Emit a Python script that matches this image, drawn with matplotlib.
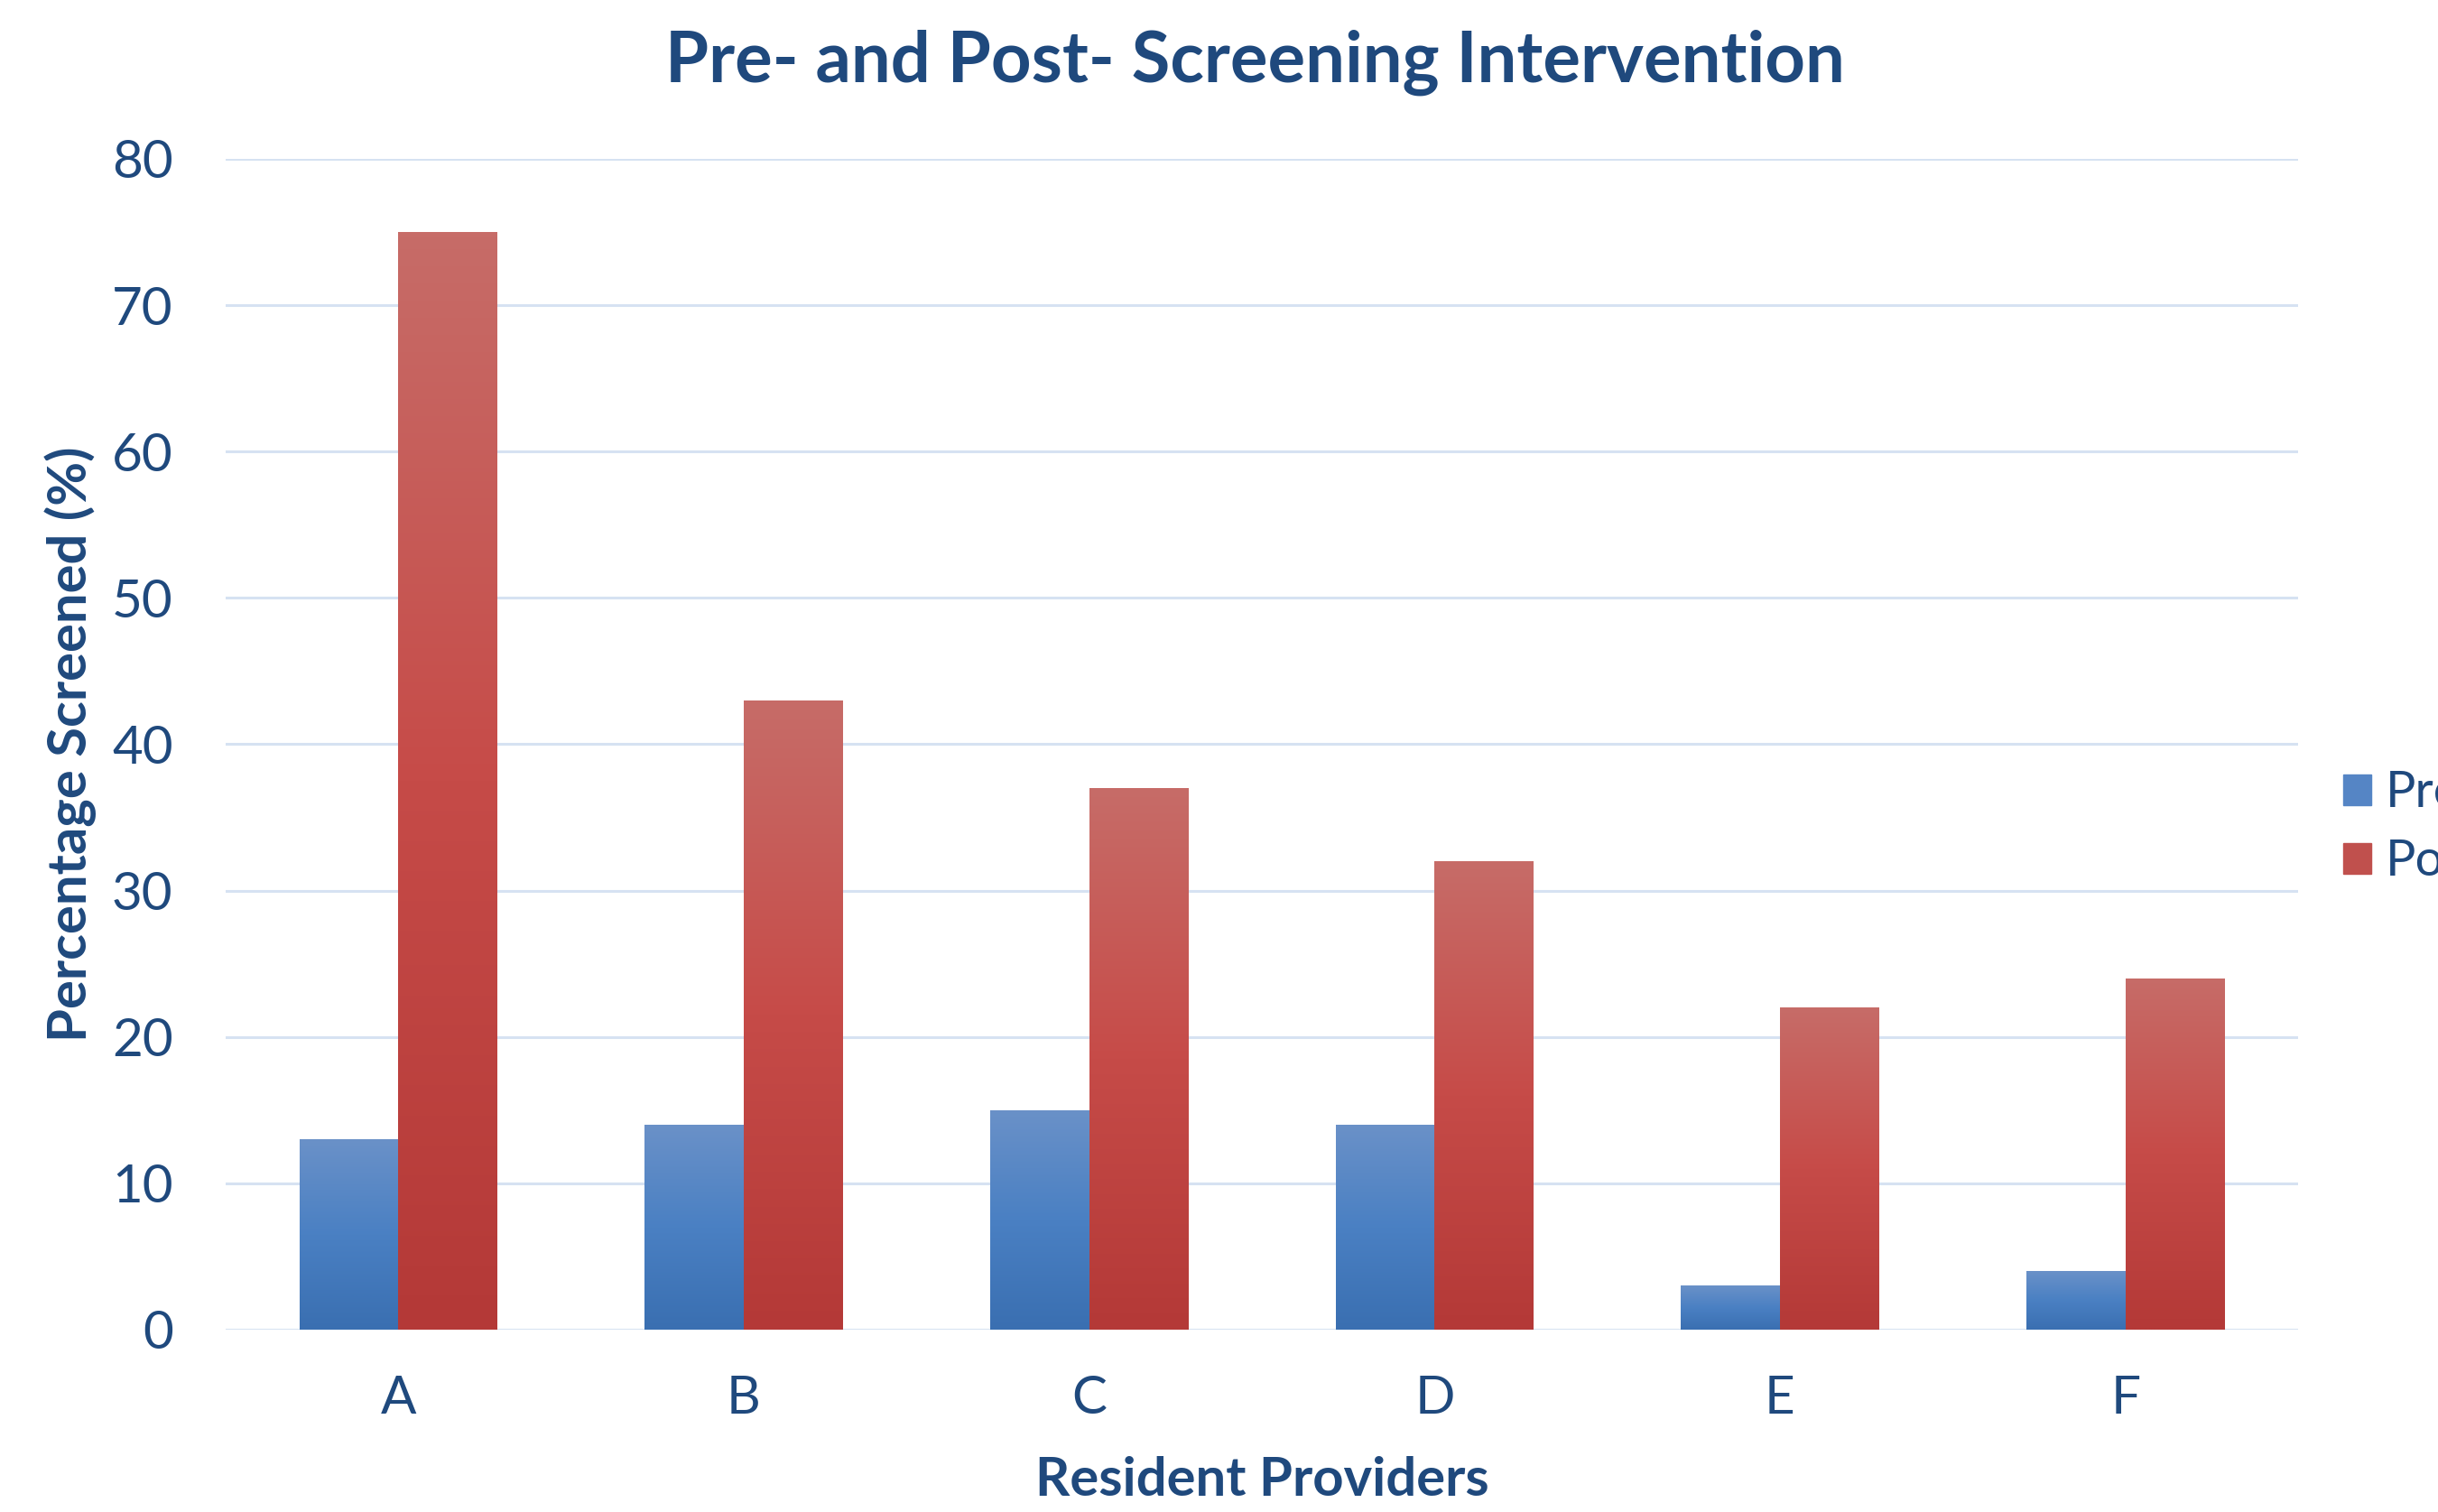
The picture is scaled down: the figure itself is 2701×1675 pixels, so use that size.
import numpy as np
import matplotlib
matplotlib.use("Agg")
from matplotlib import pyplot as plt
from matplotlib.colors import LinearSegmentedColormap

providers = ["A", "B", "C", "D", "E", "F"]
pre = [13, 14, 15, 14, 3, 4]
post = [75, 43, 37, 32, 22, 24]
series_names = ["Pre", "Post"]

text_color = "#1f497d"
plt.rcParams["font.family"] = ["Lato", "DejaVu Sans"]

blue_map = LinearSegmentedColormap.from_list("b", ["#3a6fb1", "#4a80c3", "#6a91c8"])
red_map = LinearSegmentedColormap.from_list("r", ["#b43937", "#c64b48", "#c76c68"])


def gradient_bars(ax, bars, cmap):
    grad = np.linspace(0, 1, 256).reshape(-1, 1)
    for b in bars:
        x0, y0 = b.get_x(), b.get_y()
        w, h = b.get_width(), b.get_height()
        im = ax.imshow(grad, cmap=cmap, origin="lower", aspect="auto",
                       extent=[x0, x0 + w, y0, y0 + h], zorder=3)
        im.set_clip_path(b)


W, H = 2701, 1675
fig = plt.figure(figsize=(W / 100, H / 100), dpi=100)
ax = fig.add_axes([250 / W, 1 - 1473 / H, 2296 / W, (1473 - 176) / H])

x = np.arange(len(providers))
w = 0.287
b1 = ax.bar(x - w / 2, pre, w, color="#4a80c3", label=series_names[0], zorder=2)
b2 = ax.bar(x + w / 2, post, w, color="#c64b48", label=series_names[1], zorder=2)
gradient_bars(ax, b1, blue_map)
gradient_bars(ax, b2, red_map)

ax.set_xlim(-0.5, len(providers) - 0.5)
ax.set_ylim(0, 80)
ax.set_yticks(range(0, 81, 10))
ax.set_xticks(x)
ax.set_xticklabels(providers)
ax.yaxis.grid(True, color="#d6e2f2", linewidth=2.2, zorder=0)
ax.set_axisbelow(True)
for s in ax.spines.values():
    s.set_visible(False)
ax.tick_params(axis="both", length=0, labelsize=42, colors=text_color)
ax.tick_params(axis="y", pad=42)
ax.tick_params(axis="x", pad=36)

fig.text(1390 / W, 1 - 69 / H, "Pre- and Post- Screening Intervention", fontsize=56,
         fontweight="bold", color=text_color, ha="center", va="center")
ax.set_xlabel("Resident Providers", fontsize=43, fontweight="bold", color=text_color)
ax.set_ylabel("Percentage Screened (%)", fontsize=43, fontweight="bold", color=text_color)
ax.xaxis.set_label_coords(0.5, (1473 - 1640) / 1297)
ax.xaxis.label.set_va("center")
ax.yaxis.set_label_coords((78 - 250) / 2296, 0.5)
ax.yaxis.label.set_va("center")

fig.legend(handles=[b1, b2], loc="center left", bbox_to_anchor=(2596 / W, 1 - 917 / H),
           frameon=False, fontsize=40, labelcolor=text_color, handlelength=0.55,
           handleheight=0.55, handletextpad=0.3, labelspacing=0.45,
           borderpad=0, borderaxespad=0)
leg = fig.legends[0]
leg.legend_handles[0].set_color("#5585c5")
leg.legend_handles[1].set_color("#c0504d")

fig.savefig("out.png", dpi=100)
